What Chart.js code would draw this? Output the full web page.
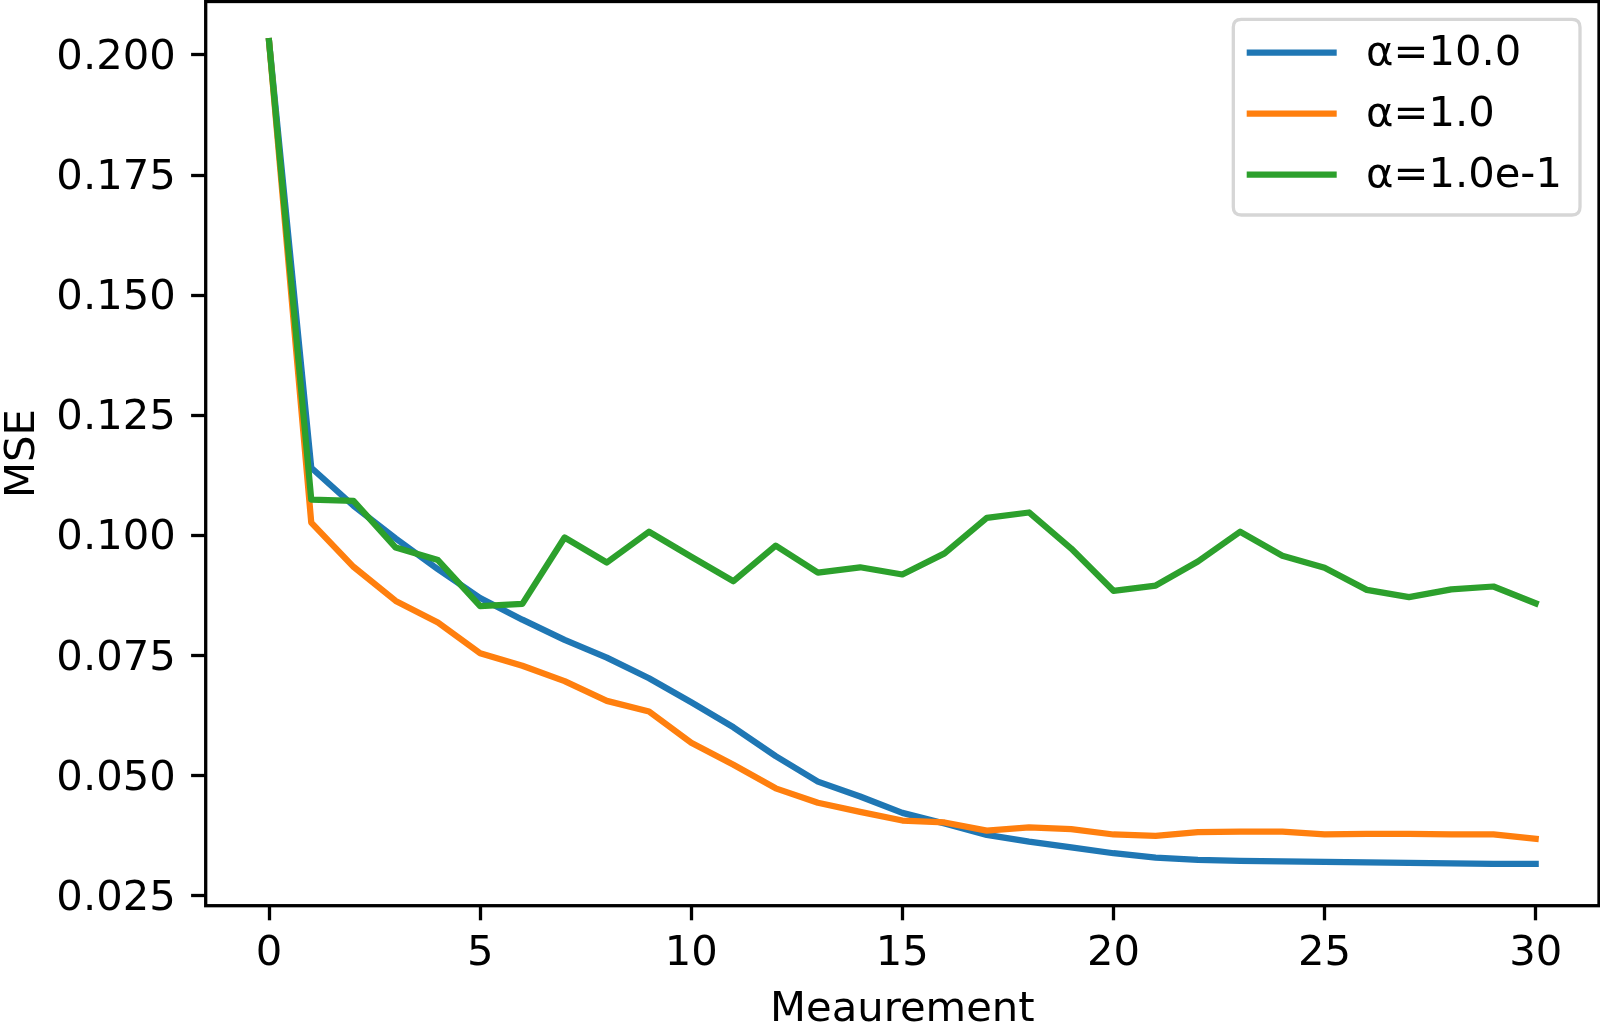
<!DOCTYPE html>
<html>
<head>
<meta charset="utf-8">
<script src="https://cdn.jsdelivr.net/npm/chart.js@4/dist/chart.umd.min.js"></script>
<style>
  html, body { margin: 0; padding: 0; background: #ffffff; }
  #wrap { width: 1600px; height: 1031px; position: relative; }
</style>
</head>
<body>
<div id="wrap"><canvas id="c" width="1600" height="1031"></canvas></div>
<script>
const measurements = [0,1,2,3,4,5,6,7,8,9,10,11,12,13,14,15,16,17,18,19,20,21,22,23,24,25,26,27,28,29,30];
const seriesLabels = ['α=10.0', 'α=1.0', 'α=1.0e-1'];
const alpha10 = [0.2029,0.1141,0.1062,0.0994,0.0930,0.0870,0.0825,0.0783,0.0746,0.0703,0.0653,0.0601,0.0541,0.0488,0.0457,0.0423,0.0401,0.0377,0.0363,0.0351,0.0339,0.0330,0.0325,0.0323,0.0322,0.0321,0.0320,0.0319,0.0318,0.0317,0.0317];
const alpha1 = [0.2029,0.1027,0.0935,0.0864,0.0819,0.0755,0.0729,0.0697,0.0656,0.0634,0.0569,0.0523,0.0474,0.0444,0.0425,0.0407,0.0403,0.0386,0.0393,0.0389,0.0378,0.0375,0.0383,0.0384,0.0384,0.0378,0.0379,0.0379,0.0378,0.0378,0.0369];
const alpha01 = [0.2029,0.1075,0.1072,0.0975,0.0949,0.0853,0.0858,0.0996,0.0944,0.1008,0.0956,0.0905,0.0979,0.0923,0.0934,0.0919,0.0963,0.1037,0.1048,0.0973,0.0885,0.0896,0.0946,0.1008,0.0958,0.0933,0.0887,0.0872,0.0888,0.0894,0.0859];
const xTicks = [0,5,10,15,20,25,30];
const yTicks = [0.025,0.050,0.075,0.100,0.125,0.150,0.175,0.200];
const colors = ['#1f77b4', '#ff7f0e', '#2ca02c'];

const FONT = 'DejaVu Sans';
const FS = 41.7;

function pts(vals) { return measurements.map((m, i) => ({x: m, y: vals[i]})); }

const framePlugin = {
  id: 'frame',
  afterDatasetsDraw(chart) {
    const {ctx, chartArea: a} = chart;
    ctx.save();
    ctx.strokeStyle = '#000000';
    ctx.lineWidth = 3.3;
    ctx.lineJoin = 'miter';
    ctx.strokeRect(a.left, a.top, a.right - a.left, a.bottom - a.top);
    ctx.restore();
  },
  afterDraw(chart) {
    const ctx = chart.ctx;
    const x0 = 1233.3, y0 = 19.3, x1 = 1580, y1 = 215, r = 8;
    ctx.save();
    ctx.beginPath();
    ctx.moveTo(x0 + r, y0);
    ctx.lineTo(x1 - r, y0);
    ctx.quadraticCurveTo(x1, y0, x1, y0 + r);
    ctx.lineTo(x1, y1 - r);
    ctx.quadraticCurveTo(x1, y1, x1 - r, y1);
    ctx.lineTo(x0 + r, y1);
    ctx.quadraticCurveTo(x0, y1, x0, y1 - r);
    ctx.lineTo(x0, y0 + r);
    ctx.quadraticCurveTo(x0, y0, x0 + r, y0);
    ctx.closePath();
    ctx.fillStyle = 'rgba(255,255,255,0.8)';
    ctx.fill();
    ctx.strokeStyle = '#d6d6d6';
    ctx.lineWidth = 3.3;
    ctx.stroke();
    const ds = chart.data.datasets;
    ds.forEach((d, i) => {
      const y = 52.7 + i * 61;
      ctx.beginPath();
      ctx.strokeStyle = d.borderColor;
      ctx.lineWidth = 6.25;
      ctx.lineCap = 'butt';
      ctx.moveTo(1246.7, y);
      ctx.lineTo(1336.7, y);
      ctx.stroke();
      ctx.fillStyle = '#000000';
      ctx.font = FS + 'px "' + FONT + '"';
      ctx.textAlign = 'left';
      ctx.textBaseline = 'middle';
      ctx.fillText(d.label, 1366, y + 1.5);
    });
    ctx.restore();
  }
};

const datasets = [alpha10, alpha1, alpha01].map((vals, i) => ({
  label: seriesLabels[i],
  data: pts(vals),
  borderColor: colors[i],
  backgroundColor: colors[i],
  borderWidth: 6.25,
  pointRadius: 0,
  pointHoverRadius: 0,
  tension: 0,
  fill: false,
  borderCapStyle: 'square',
  borderJoinStyle: 'round',
  order: 2 - i
}));

new Chart(document.getElementById('c'), {
  type: 'line',
  data: { datasets },
  plugins: [framePlugin],
  options: {
    responsive: false,
    animation: false,
    devicePixelRatio: 1,
    layout: { padding: { top: 1.5, right: 1, left: 0, bottom: 0 } },
    plugins: { legend: { display: false }, tooltip: { enabled: false } },
    scales: {
      x: {
        type: 'linear',
        min: -1.5,
        max: 31.5,
        afterBuildTicks: (s) => { s.ticks = xTicks.map(v => ({value: v})); },
        afterFit: (s) => { s.height = 125.3; s.paddingLeft = 0; s.paddingRight = 0; },
        ticks: {
          color: '#000000',
          font: { family: FONT, size: FS },
          padding: 9,
          maxRotation: 0,
          autoSkip: false,
          callback: (v) => String(v)
        },
        grid: { drawOnChartArea: false, drawTicks: true, tickLength: 14.6, tickWidth: 3.3, tickColor: '#000000' },
        border: { display: false },
        title: { display: true, text: 'Meaurement', color: '#000000', font: { family: FONT, size: FS, lineHeight: 1 }, padding: 0 }
      },
      y: {
        type: 'linear',
        min: 0.02298,
        max: 0.21113,
        afterBuildTicks: (s) => { s.ticks = yTicks.map(v => ({value: v})); },
        afterFit: (s) => { s.width = 205.7; s.paddingTop = 0; s.paddingBottom = 0; },
        ticks: {
          color: '#000000',
          font: { family: FONT, size: FS },
          padding: 15.4,
          labelOffset: 3,
          autoSkip: false,
          callback: (v) => Number(v).toFixed(3)
        },
        grid: { drawOnChartArea: false, drawTicks: true, tickLength: 14.6, tickWidth: 3.3, tickColor: '#000000' },
        border: { display: false },
        title: { display: true, text: 'MSE', color: '#000000', font: { family: FONT, size: FS, lineHeight: 1.1 }, padding: 0 }
      }
    }
  }
});
</script>
</body>
</html>
